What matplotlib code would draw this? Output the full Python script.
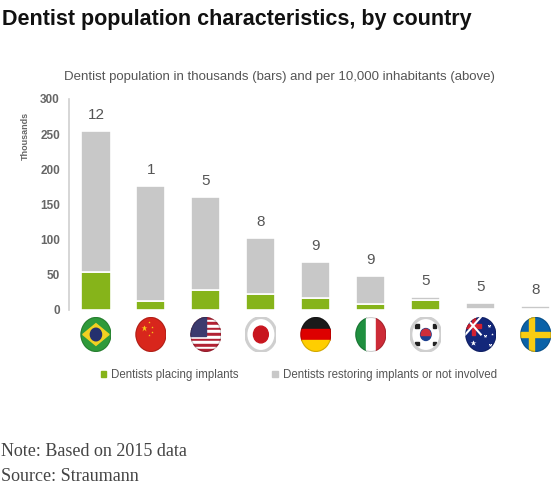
import numpy as np
import matplotlib
matplotlib.use("Agg")
import matplotlib.pyplot as plt
from matplotlib.patches import Circle, Rectangle, Polygon, Patch

countries = ["Brazil", "China", "USA", "Japan", "Germany", "Italy",
             "South Korea", "Australia", "Sweden"]
# dentists in thousands
total_dentists = [255, 176, 160, 103, 68, 49, 19, 9.5, 5.5]
placing_implants = [54, 13, 29, 23, 17, 8, 14, 2, 1.5]
per_10k = [12, 1, 5, 8, 9, 9, 5, 5, 8]
yticks = [0, 50, 100, 150, 200, 250, 300]

GREEN = "#86b41a"
GRAY = "#c8c8c8"
TXT = "#555555"
SANS = ["Liberation Sans", "DejaVu Sans"]

plt.rcParams["font.family"] = SANS

W, H = 560, 488
fig = plt.figure(figsize=(W / 100, H / 100), dpi=100)

# main axes: spine at x=69px, y=0 at 310px, y=300 at 99px
ax = fig.add_axes([69 / W, 1 - 310 / H, 1 - 69 / W, 211 / H])
x = np.arange(len(countries))
restoring = [t - p for t, p in zip(total_dentists, placing_implants)]
ax.bar(x, placing_implants, width=0.53, color=GREEN, edgecolor="white", linewidth=1.2)
ax.bar(x, restoring, width=0.53, bottom=placing_implants, color=GRAY,
       edgecolor="white", linewidth=1.2)

for xi, top, lab in zip(x, total_dentists, per_10k):
    ax.annotate(str(lab), (xi, top), xytext=(0, 6.5), textcoords="offset points",
                ha="center", va="bottom", fontsize=11, color=TXT)

ax.set_xlim(-0.49, 8.44)
ax.set_ylim(0, 300)
ax.set_yticks(yticks)
ax.set_xticks([])
ax.tick_params(axis="y", length=0, pad=6.5, labelsize=8.5, labelcolor="#666666")
for lbl in ax.get_yticklabels():
    lbl.set_fontweight("bold")
for s in ["top", "right", "bottom"]:
    ax.spines[s].set_visible(False)
ax.spines["left"].set_color("#d0d0d0")
ax.spines["left"].set_linewidth(1.2)
ax.patch.set_alpha(0)

fig.text(25 / W, 1 - 136 / H, "Thousands", rotation=90, ha="center", va="center",
         fontsize=6.5, fontweight="bold", color="#666666")


# ---- flags -------------------------------------------------------------
def flag_brazil(fa):
    fa.add_patch(Rectangle((-1, -1), 2, 2, color="#2f9a3a"))
    fa.add_patch(Polygon([(-0.85, 0), (0, 0.62), (0.85, 0), (0, -0.62)], color="#f2d022"))
    fa.add_patch(Circle((0, 0), 0.36, color="#24306e"))


def flag_china(fa):
    fa.add_patch(Rectangle((-1, -1), 2, 2, color="#d8261c"))
    fa.plot([-0.45], [0.4], marker="*", ms=5, color="#f7d117", mec="none")
    for sx, sy in [(-0.1, 0.7), (0.05, 0.45), (0.05, 0.15), (-0.1, -0.05)]:
        fa.plot([sx], [sy], marker="*", ms=1.8, color="#f7d117", mec="none")


def flag_usa(fa):
    hs = 2 / 13
    for k in range(13):
        c = "#b22234" if k % 2 == 0 else "white"
        fa.add_patch(Rectangle((-1, 1 - (k + 1) * hs), 2, hs, color=c))
    fa.add_patch(Rectangle((-1, 1 - 7 * hs), 1.0, 7 * hs, color="#3c3b6e"))


def flag_japan(fa):
    fa.add_patch(Rectangle((-1, -1), 2, 2, color="white"))
    fa.add_patch(Circle((0, 0), 0.48, color="#c8151e"))


def flag_germany(fa):
    for k, c in enumerate(["#1a1a1a", "#dd0000", "#ffce00"]):
        fa.add_patch(Rectangle((-1, 1 - (k + 1) * 2 / 3), 2, 2 / 3, color=c))


def flag_italy(fa):
    for k, c in enumerate(["#1f8f3f", "white", "#cd2b37"]):
        fa.add_patch(Rectangle((-1 + k * 2 / 3, -1), 2 / 3, 2, color=c))


def flag_korea(fa):
    fa.add_patch(Rectangle((-1, -1), 2, 2, color="white"))
    fa.add_patch(Circle((0, 0), 0.34, color="#1b3f8f"))
    fa.add_patch(Rectangle((-0.4, 0), 0.8, 0.4, color="#cd2e3a",
                           clip_path=Circle((0, 0), 0.34, transform=fa.transData)))
    for bx, by in [(-0.55, 0.5), (0.55, 0.5), (-0.55, -0.5), (0.55, -0.5)]:
        fa.add_patch(Rectangle((bx - 0.12, by - 0.1), 0.24, 0.2, color="#222222"))


def flag_australia(fa):
    fa.add_patch(Rectangle((-1, -1), 2, 2, color="#13277a"))
    fa.plot([-1, 0], [0, 1], color="white", lw=1.5)
    fa.plot([-1, 0], [1, 0], color="white", lw=1.5)
    fa.add_patch(Rectangle((-0.6, 0), 0.2, 1, color="#d22030"))
    fa.add_patch(Rectangle((-1, 0.4), 1, 0.2, color="#d22030"))
    for sx, sy, ms in [(-0.5, -0.5, 4), (0.5, 0.5, 2.5), (0.3, -0.1, 2.5),
                       (0.6, -0.6, 2.5), (0.75, 0.05, 2)]:
        fa.plot([sx], [sy], marker="*", ms=ms, color="white", mec="none")


def flag_sweden(fa):
    fa.add_patch(Rectangle((-1, -1), 2, 2, color="#0a62a8"))
    fa.add_patch(Rectangle((-0.45, -1), 0.32, 2, color="#f8cc12"))
    fa.add_patch(Rectangle((-1, -0.16), 2, 0.32, color="#f8cc12"))


flag_funcs = [flag_brazil, flag_china, flag_usa, flag_japan, flag_germany,
              flag_italy, flag_korea, flag_australia, flag_sweden]
white_flags = {3, 6}

fw = 31 / 55                # flag width in data units
fy_c = -24.5 / 211          # flag centre below baseline, axes units
fh = 35 / 211
trans = ax.get_xaxis_transform()
for i, func in enumerate(flag_funcs):
    fa = ax.inset_axes([x[i] - fw / 2, fy_c - fh / 2, fw, fh], transform=trans)
    fa.set_xlim(-1, 1)
    fa.set_ylim(-1, 1)
    fa.axis("off")
    clip = Circle((0, 0), 1, transform=fa.transData)
    func(fa)
    for art in list(fa.patches) + list(fa.lines):
        if art.get_clip_path() is None:
            art.set_clip_path(clip)
    ring = "#cfcfcf" if i in white_flags else (0, 0, 0, 0.18)
    lw = 2.2 if i in white_flags else 0.8
    fa.add_patch(Circle((0, 0), 0.97, fill=False, edgecolor=ring, linewidth=lw))

# legend
handles = [Patch(color=GREEN, label="Dentists placing implants"),
           Patch(color=GRAY, label="Dentists restoring implants or not involved")]
fig.legend(handles=handles, loc="center", bbox_to_anchor=(299 / W, 1 - 375 / H),
           ncol=2, frameon=False, fontsize=8.3, handlelength=0.45, handleheight=0.45,
           handletextpad=0.5, columnspacing=2.9, labelcolor=TXT)

fig.text(0.003, 1 - 25 / H, "Dentist population characteristics, by country",
         ha="left", va="baseline", fontsize=15.5, fontweight="bold", color="#111111")
fig.text(279 / W, 1 - 80 / H,
         "Dentist population in thousands (bars) and per 10,000 inhabitants (above)",
         ha="center", va="baseline", fontsize=9.5, color=TXT)

serif = ["Liberation Serif", "DejaVu Serif"]
fig.text(0.002, 1 - 456 / H, "Note: Based on 2015 data", ha="left", va="baseline",
         fontsize=13, color="#444444", family=serif)
fig.text(0.002, 1 - 481 / H, "Source: Straumann", ha="left", va="baseline",
         fontsize=13, color="#444444", family=serif)

fig.savefig("out.png", dpi=100, facecolor="white")
